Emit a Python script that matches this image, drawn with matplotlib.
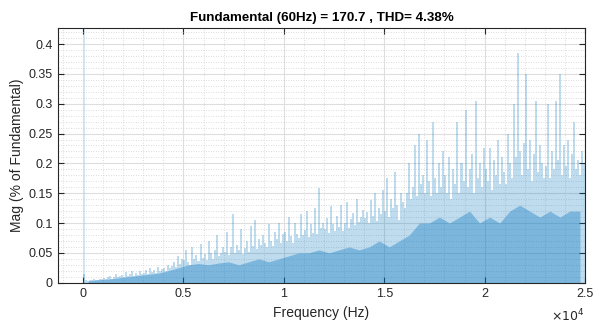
import numpy as np
import matplotlib.pyplot as plt
from matplotlib.ticker import MultipleLocator, FixedFormatter, FixedLocator

plt.rcParams['font.family'] = ['Liberation Sans', 'DejaVu Sans']

# 基本波 (60Hz) は 100% -> 軸の上で切れる
fund_freq = 60
fund_mag = 100.0

# スペクトルのピーク (100Hz刻み, 0..24900Hz)
peak_step = 100
peak_mag = [
    0.015, 0.004, 0.003, 0.005, 0.004, 0.006, 0.005, 0.004, 0.007, 0.006,
    0.008, 0.006, 0.009, 0.012, 0.007, 0.010, 0.015, 0.009, 0.011, 0.013,
    0.010, 0.018, 0.012, 0.014, 0.020, 0.011, 0.016, 0.013, 0.019, 0.015,
    0.017, 0.022, 0.014, 0.025, 0.018, 0.021, 0.016, 0.027, 0.019, 0.023,
    0.025, 0.020, 0.030, 0.024, 0.028, 0.035, 0.026, 0.045, 0.032, 0.040,
    0.038, 0.055, 0.034, 0.030, 0.060, 0.040, 0.046, 0.036, 0.065, 0.042,
    0.048, 0.038, 0.070, 0.050, 0.040, 0.055, 0.080, 0.044, 0.050, 0.060,
    0.052, 0.085, 0.046, 0.060, 0.115, 0.050, 0.064, 0.055, 0.090, 0.048,
    0.058, 0.070, 0.052, 0.095, 0.062, 0.105, 0.056, 0.074, 0.064, 0.080,
    0.066, 0.060, 0.098, 0.070, 0.062, 0.085, 0.074, 0.100, 0.066, 0.082,
    0.085, 0.070, 0.110, 0.078, 0.066, 0.100, 0.082, 0.075, 0.115, 0.080,
    0.088, 0.120, 0.076, 0.098, 0.084, 0.125, 0.082, 0.158, 0.092, 0.100,
    0.090, 0.108, 0.084, 0.128, 0.098, 0.086, 0.112, 0.094, 0.130, 0.086,
    0.100, 0.135, 0.092, 0.106, 0.116, 0.096, 0.140, 0.102, 0.110, 0.122,
    0.108, 0.118, 0.100, 0.138, 0.112, 0.150, 0.104, 0.125, 0.115, 0.155,
    0.120, 0.175, 0.110, 0.140, 0.125, 0.185, 0.130, 0.105, 0.150, 0.135,
    0.125, 0.150, 0.200, 0.140, 0.160, 0.230, 0.145, 0.250, 0.165, 0.180,
    0.150, 0.240, 0.170, 0.145, 0.270, 0.175, 0.150, 0.200, 0.160, 0.220,
    0.180, 0.150, 0.210, 0.140, 0.190, 0.165, 0.270, 0.150, 0.200, 0.170,
    0.290, 0.160, 0.190, 0.215, 0.150, 0.305, 0.175, 0.200, 0.160, 0.225,
    0.190, 0.170, 0.225, 0.155, 0.205, 0.180, 0.240, 0.165, 0.210, 0.185,
    0.165, 0.250, 0.200, 0.175, 0.300, 0.210, 0.385, 0.220, 0.180, 0.235,
    0.350, 0.190, 0.240, 0.170, 0.215, 0.305, 0.185, 0.230, 0.200, 0.175,
    0.195, 0.300, 0.175, 0.220, 0.190, 0.305, 0.205, 0.350, 0.180, 0.230,
    0.195, 0.240, 0.175, 0.215, 0.270, 0.190, 0.205, 0.180, 0.220, 0.200,
]

# 密な下側部分 (500Hz刻み, 区間中央)
base_step = 500
base_mag = [
    0.003, 0.005, 0.006, 0.008, 0.010, 0.012, 0.014, 0.016, 0.020, 0.025,
    0.030, 0.032, 0.030, 0.033, 0.035, 0.030, 0.035, 0.040, 0.035, 0.040,
    0.045, 0.050, 0.050, 0.055, 0.050, 0.055, 0.060, 0.055, 0.060, 0.070,
    0.060, 0.070, 0.080, 0.100, 0.100, 0.110, 0.100, 0.110, 0.120, 0.100,
    0.110, 0.100, 0.120, 0.130, 0.120, 0.110, 0.120, 0.110, 0.120, 0.120,
]

blue = '#0072BD'
peak_f = np.arange(len(peak_mag)) * peak_step + peak_step / 2
base_f = np.arange(len(base_mag)) * base_step + base_step / 2

fig = plt.figure(figsize=(6.02, 3.24), dpi=100)
ax = fig.add_axes([0.0963, 0.1275, 0.8754, 0.7861])

ax.fill_between(base_f, 0, base_mag, color=blue, alpha=0.35, linewidth=0, zorder=2)
ax.bar(peak_f, peak_mag, width=peak_step, color=blue, alpha=0.25, linewidth=0, zorder=3)
ax.bar([fund_freq], [fund_mag], width=40, color=blue, alpha=0.15, linewidth=0, zorder=3)

ax.set_xlim(-1250, 25000)
ax.set_ylim(0, 0.427)

ax.xaxis.set_major_locator(FixedLocator([0, 5000, 10000, 15000, 20000, 25000]))
ax.xaxis.set_major_formatter(FixedFormatter(['0', '0.5', '1', '1.5', '2', '2.5']))
ax.xaxis.set_minor_locator(MultipleLocator(1000))
ax.yaxis.set_major_locator(MultipleLocator(0.05))
ax.yaxis.set_minor_locator(MultipleLocator(0.01))
ax.yaxis.set_major_formatter(plt.FuncFormatter(lambda v, p: f'{v:g}'))

ax.grid(which='major', color='#dedede', linewidth=0.8, zorder=0)
ax.grid(which='minor', color='#d0d0d0', linewidth=0.6, linestyle=(0, (1, 2)), zorder=0)
ax.set_axisbelow(True)

ax.tick_params(which='major', direction='in', length=4, width=0.8, top=True, right=True,
               labelsize=9, colors='#262626', pad=4)
ax.tick_params(which='minor', length=0, top=True, right=True)
for s in ax.spines.values():
    s.set_color('#262626')
    s.set_linewidth(0.8)

ax.set_xlabel('Frequency (Hz)', fontsize=10, color='#262626', labelpad=4)
ax.set_ylabel('Mag (% of Fundamental)', fontsize=10, color='#262626', labelpad=3)
ax.set_title('Fundamental (60Hz) = 170.7 , THD= 4.38%', fontsize=9.6, fontweight='bold', pad=5)
ax.text(1.0, -0.1, r'$\times10^4$', transform=ax.transAxes, ha='right', va='top',
        fontsize=9, color='#262626')

fig.savefig('out.png', dpi=100)
